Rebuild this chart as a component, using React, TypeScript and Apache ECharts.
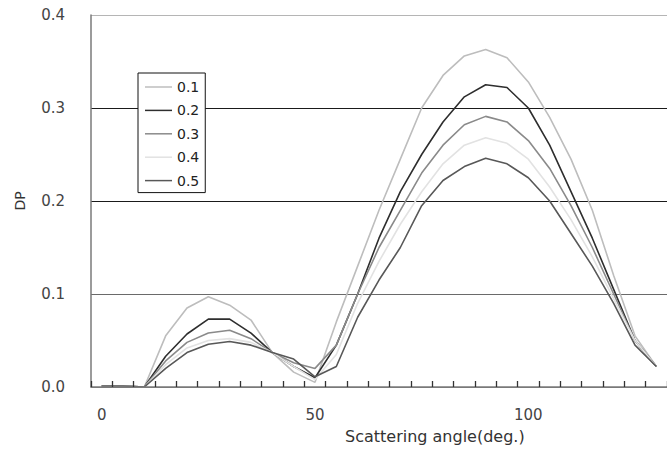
import React, { useEffect, useRef } from "react";
import * as echarts from "echarts";

// Scattering angle categories (deg.)
const angles = [
  "0", "5", "10", "15", "20", "25", "30", "35", "40", "45", "50", "55", "60", "65",
  "70", "75", "80", "85", "90", "95", "100", "105", "110", "115", "120", "125", "130",
];

const seriesNames = ["0.1", "0.2", "0.3", "0.4", "0.5"];

const dp01 = [0.001, 0.001, 0, 0.055, 0.085, 0.097, 0.088, 0.072, 0.037, 0.016, 0.005, 0.07, 0.13, 0.19, 0.245, 0.3, 0.335, 0.356, 0.363, 0.354, 0.328, 0.29, 0.245, 0.19, 0.12, 0.055, 0.022];
const dp02 = [0.001, 0.001, 0, 0.033, 0.057, 0.073, 0.073, 0.058, 0.037, 0.022, 0.01, 0.045, 0.1, 0.16, 0.21, 0.25, 0.285, 0.312, 0.325, 0.322, 0.3, 0.26, 0.21, 0.16, 0.105, 0.05, 0.022];
const dp03 = [0.001, 0.001, 0, 0.028, 0.048, 0.058, 0.061, 0.052, 0.037, 0.026, 0.02, 0.045, 0.1, 0.15, 0.19, 0.23, 0.26, 0.282, 0.291, 0.285, 0.265, 0.235, 0.195, 0.15, 0.1, 0.05, 0.022];
const dp04 = [0.001, 0.001, 0, 0.024, 0.042, 0.05, 0.052, 0.048, 0.037, 0.022, 0.008, 0.035, 0.09, 0.135, 0.175, 0.21, 0.24, 0.26, 0.268, 0.262, 0.245, 0.215, 0.18, 0.14, 0.095, 0.05, 0.022];
const dp05 = [0.001, 0.001, 0, 0.02, 0.037, 0.046, 0.049, 0.045, 0.037, 0.03, 0.011, 0.022, 0.075, 0.115, 0.15, 0.195, 0.222, 0.237, 0.246, 0.24, 0.225, 0.2, 0.165, 0.13, 0.09, 0.045, 0.022];

const seriesData = [dp01, dp02, dp03, dp04, dp05];
const lineColors = ["#bdbdbd", "#2e2e2e", "#8a8a8a", "#e2e2e2", "#585858"];

const FONT = "DejaVu Sans";

export default function App() {
  const ref = useRef<HTMLDivElement>(null);

  useEffect(() => {
    if (!ref.current) return;
    const chart = echarts.init(ref.current, undefined, { renderer: "svg" });
    chart.setOption({
      animation: false,
      backgroundColor: "#ffffff",
      grid: { left: 91, top: 15, right: -3, bottom: 69, containLabel: false },
      legend: {
        data: seriesNames,
        orient: "vertical",
        left: 138,
        top: 73,
        padding: [7, 6, 5, 7],
        itemWidth: 27,
        itemHeight: 14,
        itemGap: 9.4,
        icon: "path://M0,0H20V1.1H0Z",
        symbolKeepAspect: true,
        backgroundColor: "#ffffff",
        borderColor: "#111111",
        borderWidth: 1,
        borderRadius: 0,
        textStyle: { fontFamily: FONT, fontSize: 14, lineHeight: 14, color: "#222", padding: [0, 0, 0, 0] },
      },
      xAxis: {
        type: "category",
        data: angles,
        boundaryGap: true,
        z: 10,
        axisLine: { lineStyle: { color: "#7a7a7a", width: 1.5 } },
        axisTick: { show: true, inside: true, length: 6, interval: 0, lineStyle: { color: "#333", width: 1.3 } },
        axisLabel: { interval: 9, margin: 20, fontFamily: FONT, fontSize: 15, color: "#444" },
        splitLine: { show: false },
      },
      yAxis: {
        type: "value",
        min: 0,
        max: 0.4,
        interval: 0.1,
        name: "DP",
        nameLocation: "middle",
        nameGap: 64,
        nameTextStyle: { fontFamily: FONT, fontSize: 14, color: "#333" },
        axisLine: { show: true, lineStyle: { color: "#7a7a7a", width: 1.5 } },
        axisTick: { show: false },
        axisLabel: {
          margin: 26,
          fontFamily: FONT,
          fontSize: 15,
          color: "#444",
          formatter: (v: number) => v.toFixed(1),
        },
        splitLine: {
          show: true,
          lineStyle: { color: ["#7a7a7a", "#6a6a6a", "#1a1a1a", "#1a1a1a", "#b5b5b5"], width: 1.2 },
        },
      },
      graphic: [
        {
          type: "text",
          left: 345,
          top: 428,
          style: { text: "Scattering angle(deg.)", fontFamily: FONT, fontSize: 16, fill: "#333" },
        },
      ],
      series: seriesNames.map((name, i) => ({
        name,
        type: "line",
        data: seriesData[i],
        symbol: "none",
        color: lineColors[i],
        lineStyle: { color: lineColors[i], width: 1.6 },
        z: 2 + i,
      })),
    });
    return () => chart.dispose();
  }, []);

  return (
    <div
      ref={ref}
      style={{ position: "fixed", left: 0, top: 0, width: 667, height: 456, background: "#fff" }}
    />
  );
}
